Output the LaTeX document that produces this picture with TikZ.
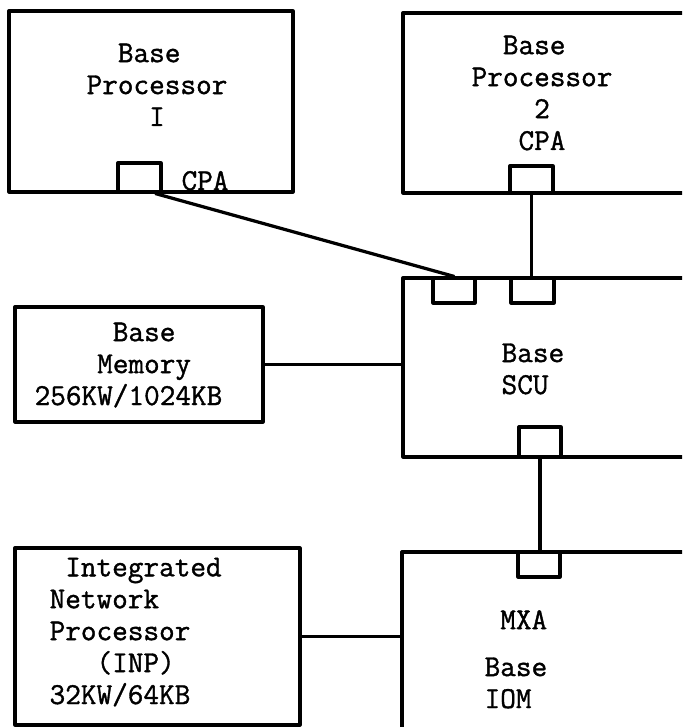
\documentclass[tikz,border=0pt]{standalone}
\usepackage{fontspec}
\newfontfamily\typer{Latin Modern Mono}[FakeBold=1.2]
\usetikzlibrary{positioning,fit}
\begin{document}
\begin{tikzpicture}[x=0.025cm, y=-0.025cm, line width=2.3pt, line join=round, line cap=round,
  font=\typer\fontsize{21.6}{22.7}\selectfont,
  unit/.style={draw, rectangle, inner sep=0pt},
  port/.style={draw, rectangle, inner sep=0pt},
  lbl/.style={anchor=base west, inner sep=0pt, align=left}]
  \useasboundingbox (0,0) rectangle (682,727);
  \clip (0,0) rectangle (682,727);
  % processors
  \node[unit, fit={(9,11) (293,192)}] (bp1) {};
  \node[unit, fit={(403,13) (720,193)}] (bp2) {};
  \node[port, fit={(118,163) (161,192)}] (cpa1) {};
  \node[port, fit={(510,166) (553,193)}] (cpa2) {};
  \node[lbl] (bp1txt) at (85,126) {\phantom{XX}Base\\Processor\\\phantom{XXXX}I};
  \node[lbl] (cpa1txt) at (180,190) {CPA};
  \node[lbl] (bp2txt) at (470,150) {\phantom{XX}Base\\Processor\\\phantom{XXXX}2\\\phantom{XXX}CPA};
  % memory and scu
  \node[unit, fit={(15,307) (263,422)}] (mem) {};
  \node[unit, fit={(403,278) (720,457)}] (scu) {};
  \node[port, fit={(433,278) (475,303)}] (scu1) {};
  \node[port, fit={(511,278) (554,303)}] (scu2) {};
  \node[port, fit={(519,427) (561,457)}] (scu3) {};
  \node[lbl] (memtxt) at (33,405) {\phantom{XXXXX}Base\\\phantom{XXXX}Memory\\256KW/1024KB};
  \node[lbl] (scutxt) at (500,394) {Base\\SCU};
  % inp and iom
  \node[unit, fit={(15,548) (300,725)}] (inp) {};
  \node[unit, fit={(402,552) (720,740)}] (iom) {};
  \node[port, fit={(518,552) (560,577)}] (mxa) {};
  \node[lbl] (inptxt) at (48,704) {\phantom{X}Integrated\\Network\\Processor\\\phantom{XXX}(INP)\\32KW/64KB};
  \node[lbl] (iomtxt) at (483,708) {\phantom{X}MXA\\[0.375cm]Base\\IOM};
  % connections
  \draw (cpa1.-45) -- (scu1.north);
  \draw (cpa2.south) -- (cpa2.south |- scu2.north);
  \draw (mem.east) -- (mem.east -| scu.west);
  \draw (scu3.south) -- (scu3.south |- mxa.north);
  \draw (inp.east) -- (inp.east -| iom.west);
\end{tikzpicture}
\end{document}
